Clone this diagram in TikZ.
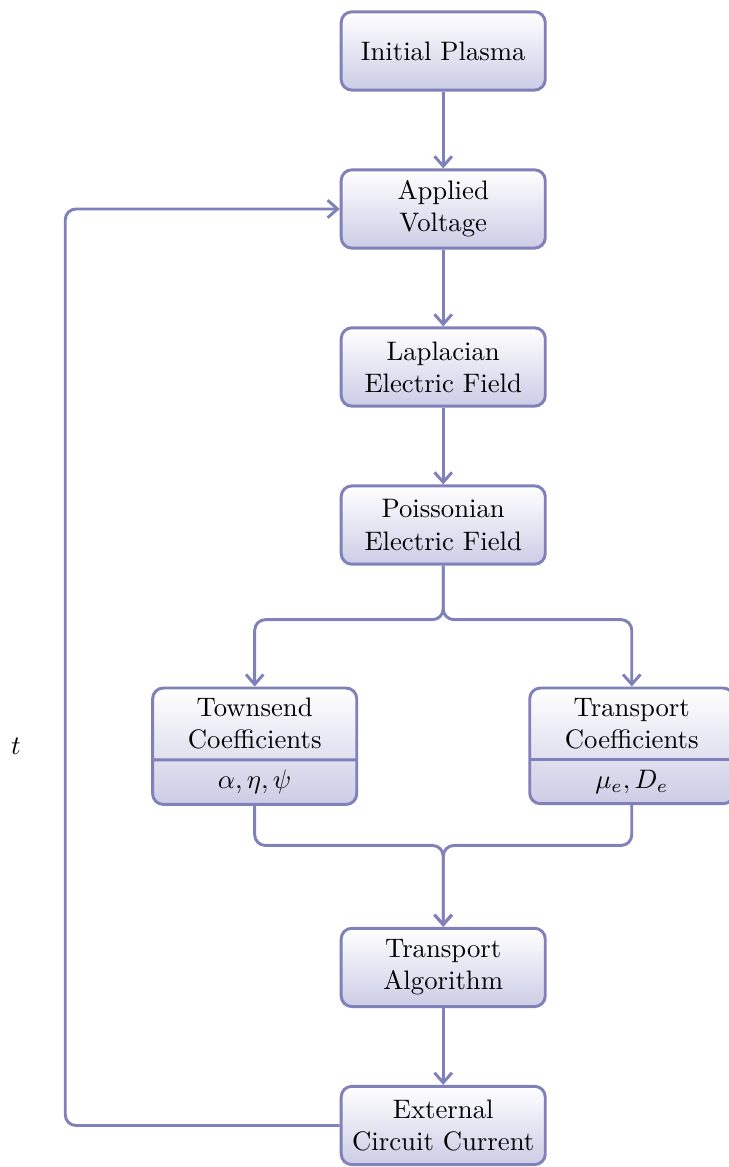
\documentclass[tikz,border=0pt]{standalone}
\usepackage{amsmath}
\usepackage{xcolor}
\usepackage{tikz}
\usetikzlibrary{shapes.multipart, arrows.meta, positioning, calc}

\definecolor{flowline}{RGB}{128,128,186}
\definecolor{flowfill}{RGB}{204,204,230}

\begin{document}
\begin{tikzpicture}[
    node distance=1.01cm,
    >={Straight Barb[length=1.3mm, width=2.3mm]},
    stage/.style={rectangle, rounded corners=4pt, draw=flowline, line width=1.1pt, top color=white, bottom color=flowfill, minimum width=2.68cm, minimum height=1.03cm, align=center, text width=2.45cm},
    coeff/.style={rectangle split, rectangle split parts=2, rectangle split part align=center, rounded corners=4pt, draw=flowline, line width=1.1pt, top color=white, bottom color=flowfill, align=center, text width=2.45cm},
    flow/.style={->, draw=flowline, line width=1.1pt, rounded corners=4pt}
]
\useasboundingbox (-5.83,0.67) rectangle (3.75,-14.68);

% Main column
\node[stage] (plasma) {Initial Plasma};
\node[stage, below=of plasma] (voltage) {Applied\\Voltage};
\node[stage, below=of voltage] (laplace) {Laplacian\\Electric Field};
\node[stage, below=of laplace] (poisson) {Poissonian\\Electric Field};

% Coefficients
\node[coeff, below=1.59cm of poisson, xshift=-2.48cm] (townsend) {Townsend\\Coefficients\nodepart{second}$\alpha,\eta,\psi$};
\node[coeff, below=1.59cm of poisson, xshift=2.48cm] (transport) {Transport\\Coefficients\nodepart{second}$\mu_e,D_e$};

\node[stage, below=1.59cm of townsend, xshift=2.48cm] (algo) {Transport\\Algorithm};
\node[stage, below=of algo] (current) {External\\Circuit Current};

% Helper points
\coordinate[below=0.71cm of poisson] (branch);
\coordinate[above=1.07cm of algo] (merge);
\coordinate[left=1.13cm of townsend.west] (loop);

% Arrows
\draw[flow] (plasma) -- (voltage);
\draw[flow] (voltage) -- (laplace);
\draw[flow] (laplace) -- (poisson);
\draw[flow] (poisson.south) -- (branch) -| (townsend.north);
\draw[flow] (poisson.south) -- (branch) -| (transport.north);
\draw[flow] (townsend.south) |- (merge) -- (algo.north);
\draw[flow] (transport.south) |- (merge) -- (algo.north);
\draw[flow] (algo) -- (current);

% Time loop
\draw[flow] (current.west) -| (loop) node[left=0.45cm] {$t$} |- (voltage.west);

\end{tikzpicture}
\end{document}
